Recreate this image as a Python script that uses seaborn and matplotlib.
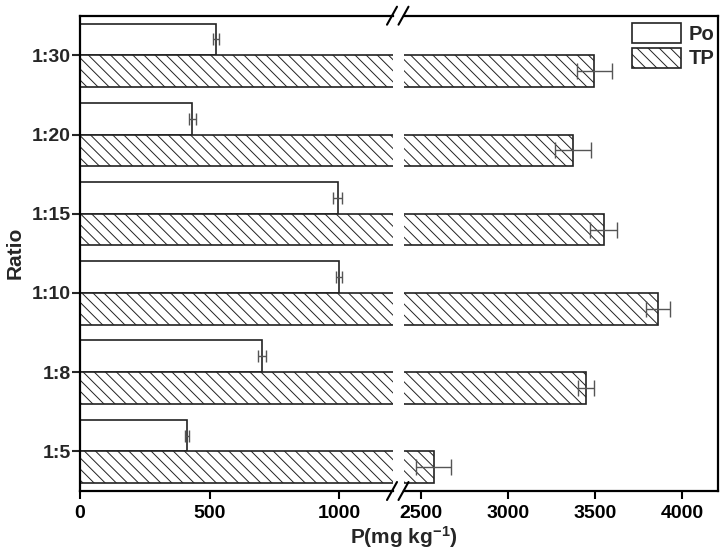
import numpy as np
import pandas as pd
import matplotlib
matplotlib.use("Agg")
import matplotlib.pyplot as plt
from matplotlib.lines import Line2D
import seaborn as sns

# ---- data ----
ratios = ["1:30", "1:20", "1:15", "1:10", "1:8", "1:5"]   # top to bottom
po_vals = [525, 434, 995, 1000, 701, 414]
po_err = [12, 12, 18, 12, 15, 8]
tp_vals = [3495, 3370, 3548, 3863, 3448, 2571]
tp_err = [99, 103, 78, 69, 47, 101]
x_ticks_left = [0, 500, 1000]
x_ticks_right = [2500, 3000, 3500, 4000]

sns.set_theme(style="white")
plt.rcParams["font.family"] = ["Liberation Sans", "DejaVu Sans"]
plt.rcParams["font.weight"] = "bold"
plt.rcParams["hatch.linewidth"] = 0.7
plt.rcParams["mathtext.fontset"] = "custom"
plt.rcParams["mathtext.bf"] = "Liberation Sans:bold"
plt.rcParams["mathtext.rm"] = "Liberation Sans:bold"
plt.rcParams["mathtext.default"] = "bf"

df = pd.DataFrame({
    "ratio": ratios * 2,
    "value": po_vals + tp_vals,
    "type": ["Po"] * len(ratios) + ["TP"] * len(ratios),
})

W, H = 725, 555
fig = plt.figure(figsize=(W / 100, H / 100), dpi=100)
ybot, ytop = 491, 15.7
axL = fig.add_axes([80 / W, 1 - ybot / H, (393 - 80) / W, (ybot - ytop) / H])
axR = fig.add_axes([404 / W, 1 - ybot / H, (718 - 404) / W, (ybot - ytop) / H])

for ax in (axL, axR):
    sns.barplot(data=df, y="ratio", x="value", hue="type", order=ratios,
                hue_order=["Po", "TP"], orient="h", ax=ax, errorbar=None,
                width=0.8, palette={"Po": "white", "TP": "white"},
                edgecolor="#222222", linewidth=1.2, legend=False)
    for bar in ax.containers[1]:
        bar.set_hatch("\\\\\\")
    pos = np.arange(len(ratios))
    ax.errorbar(po_vals, pos - 0.2, xerr=po_err, fmt="none", ecolor="#555555",
                elinewidth=1.0, capsize=4, capthick=1.0)
    ax.errorbar(tp_vals, pos + 0.2, xerr=tp_err, fmt="none", ecolor="#555555",
                elinewidth=1.0, capsize=5.5, capthick=1.0)
    ax.set_ylim(len(ratios) - 0.5, -0.5)
    ax.set_xlabel("")
    ax.set_ylabel("")
    for s in ax.spines.values():
        s.set_linewidth(1.6)
        s.set_color("black")
    ax.tick_params(axis="x", direction="out", length=6, width=1.5, pad=4,
                   labelsize=14, bottom=True, colors="black")

axL.set_xlim(0, 1208)
axL.set_xticks(x_ticks_left)
axL.spines["right"].set_visible(False)
axL.tick_params(axis="y", direction="out", length=6, width=1.5, pad=0.5,
                labelsize=14, left=True)
for t in axL.get_xticklabels() + axL.get_yticklabels():
    t.set_fontweight("bold")

axR.set_xlim(2400, 4206)
axR.set_xticks(x_ticks_right)
axR.spines["left"].set_visible(False)
axR.set_yticks([])
for t in axR.get_xticklabels():
    t.set_fontweight("bold")

# break marks
for yc in (ytop, ybot):
    for x0 in (387, 398.5):
        fig.add_artist(Line2D([x0 / W, (x0 + 10) / W],
                              [1 - (yc + 9) / H, 1 - (yc - 9) / H],
                              color="black", lw=1.5))

# legend
handles = [
    matplotlib.patches.Patch(facecolor="white", edgecolor="#222222", linewidth=1.2),
    matplotlib.patches.Patch(facecolor="white", edgecolor="#222222", linewidth=1.2,
                             hatch="\\\\\\"),
]
axR.legend(handles, ["Po", "TP"], loc="upper right", frameon=False,
           bbox_to_anchor=(1.0, 1.0 - 4 / 475), bbox_transform=axR.transAxes,
           prop={"size": 14.5, "weight": "bold"}, handlelength=2.45,
           handleheight=1.15, labelspacing=0.2, handletextpad=0.4,
           borderaxespad=0.0, borderpad=0.15)

fig.text(15 / W, 1 - 253 / H, "Ratio", rotation=90, ha="center", va="center",
         fontsize=15, fontweight="bold")
fig.text(404 / W, 1 - 537 / H, "P(mg kg$^{-1}$)", ha="center",
         va="center", fontsize=15, fontweight="bold")

fig.savefig("out.png", dpi=100)
